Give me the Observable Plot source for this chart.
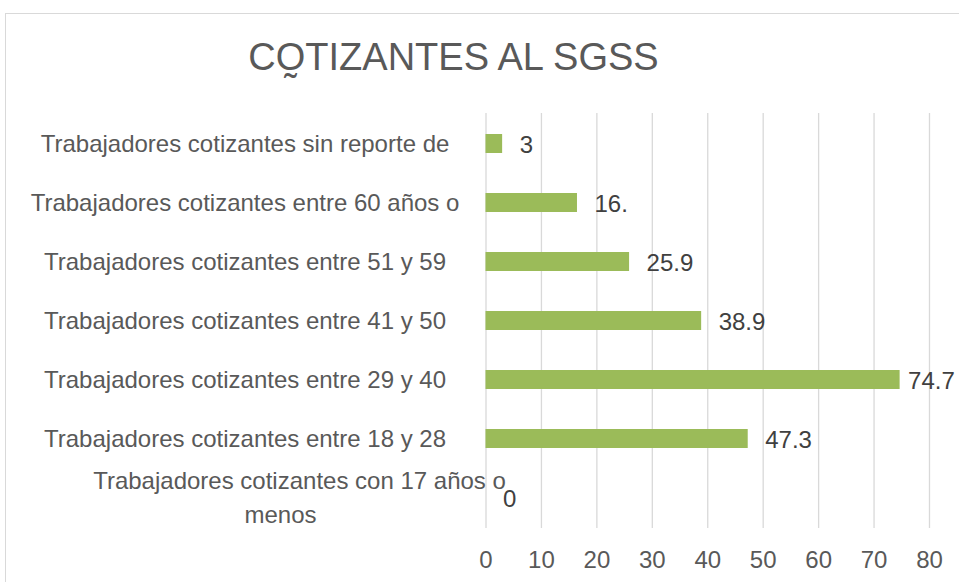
<!DOCTYPE html>
<html>
<head>
<meta charset="utf-8">
<script src="https://cdn.jsdelivr.net/npm/d3@7"></script>
<script src="https://cdn.jsdelivr.net/npm/@observablehq/plot@0.6"></script>
<style>
  html, body { margin: 0; padding: 0; background: #fff; }
  #wrap { position: relative; width: 959px; height: 582px; overflow: hidden; font-family: "Liberation Sans", Arial, sans-serif; }
  #frame { position: absolute; left: 5px; top: 13px; width: 1000px; height: 1000px; border: 1.5px solid #d9d9d9; box-sizing: border-box; }
  #title { position: absolute; left: 0; width: 907px; top: 38px; text-align: center; font-size: 38px; line-height: 38px; color: #595959; white-space: nowrap; }
  #chart { position: absolute; left: 0; top: 0; }
</style>
</head>
<body>
<div id="wrap">
  <div id="frame"></div>
  <div id="chart"></div>
  <div id="title"></div>
</div>
<script>
const title = "CO\u0330TIZANTES AL SGSS";
const categories = [
  "Trabajadores cotizantes sin reporte de",
  "Trabajadores cotizantes entre 60 años o",
  "Trabajadores cotizantes entre 51 y 59",
  "Trabajadores cotizantes entre 41 y 50",
  "Trabajadores cotizantes entre 29 y 40",
  "Trabajadores cotizantes entre 18 y 28",
  "Trabajadores cotizantes con 17 años o\nmenos"
];
const values = [3, 16.5, 25.9, 38.9, 74.7, 47.3, 0];
const valueLabels = ["3", "16.", "25.9", "38.9", "74.7", "47.3", "0"];
const xTicks = [0, 10, 20, 30, 40, 50, 60, 70, 80];

document.getElementById("title").textContent = title;

const data = categories.map((c, i) => ({category: c, value: values[i], label: valueLabels[i]}));
const lastCat = categories[categories.length - 1];
const [lastLine1, lastLine2] = lastCat.split("\n");
const maxVal = d3.max(values);

const fs = 24;
const chart = Plot.plot({
  width: 959,
  height: 582,
  marginLeft: 485.5,
  marginRight: 30,
  marginTop: 113,
  marginBottom: 54,
  style: {fontFamily: "'Liberation Sans', Arial, sans-serif", fontSize: fs + "px", background: "transparent", overflow: "visible"},
  x: {domain: [0, 80], axis: null},
  y: {domain: categories, axis: null, paddingInner: 0.68, paddingOuter: 0.34},
  marks: [
    Plot.gridX(xTicks, {stroke: "#d9d9d9", strokeOpacity: 1, strokeWidth: 1.3}),
    Plot.barX(data, {x: "value", y: "category", fill: "#9bbb59"}),
    Plot.axisX(xTicks, {tickSize: 0, tickPadding: 22, fill: "#595959", fontSize: fs, label: null}),
    // category labels
    Plot.text(data.filter(d => d.category !== lastCat), {y: "category", text: "category", frameAnchor: "left", dx: -241, textAnchor: "middle", fill: "#595959", fontSize: fs}),
    Plot.text([lastCat], {y: d => d, text: () => lastLine1, frameAnchor: "left", dx: -186.5, dy: -17, textAnchor: "middle", fill: "#595959", fontSize: fs}),
    Plot.text([lastCat], {y: d => d, text: () => lastLine2, frameAnchor: "left", dx: -205.5, dy: 17, textAnchor: "middle", fill: "#595959", fontSize: fs}),
    // value labels
    Plot.text(data.filter(d => d.value !== maxVal), {x: "value", y: "category", text: "label", textAnchor: "start", dx: 17, dy: 1.5, fill: "#404040", fontSize: fs}),
    Plot.text(data.filter(d => d.value === maxVal), {x: "value", y: "category", text: "label", textAnchor: "start", dx: 8, dy: 1.5, fill: "#404040", fontSize: fs})
  ]
});
document.getElementById("chart").appendChild(chart);
</script>
</body>
</html>
